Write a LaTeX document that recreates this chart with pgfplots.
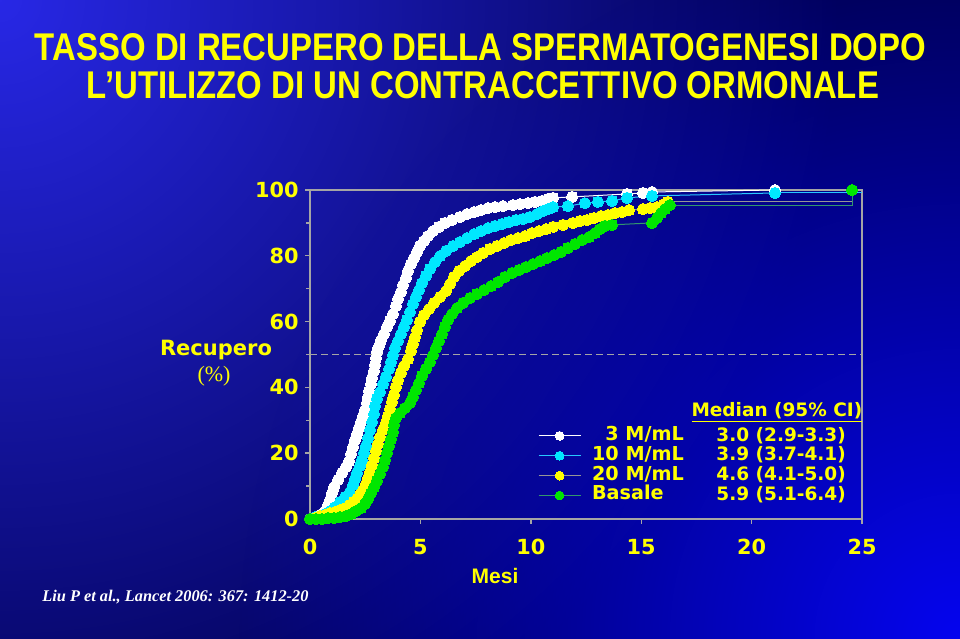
\documentclass[border=0pt]{standalone}
\usepackage{fontspec}
\usepackage{pgfplots}
\pgfplotsset{compat=1.18}
\usetikzlibrary{fadings}
\setmainfont{DejaVu Sans}
\newfontfamily\verdana{DejaVu Sans}
\newfontfamily\arialf{Liberation Sans}
\newfontfamily\timesf{Liberation Serif}
\definecolor{bgbase}{RGB}{0,0,80}
\definecolor{bgul}{RGB}{40,40,230}
\definecolor{bglr}{RGB}{5,5,240}
\definecolor{ttyellow}{RGB}{255,255,0}
\definecolor{axisgray}{RGB}{165,165,165}
\definecolor{cwhite}{RGB}{255,255,255}
\definecolor{ccyan}{RGB}{0,232,255}
\definecolor{ccyanline}{RGB}{40,200,255}
\definecolor{cyellow}{RGB}{255,255,0}
\definecolor{cyellowline}{RGB}{150,150,150}
\definecolor{cgreen}{RGB}{0,230,0}
\definecolor{cgreenline}{RGB}{50,150,110}
\tikzfading[name=radfade, inner color=transparent!0, outer color=transparent!100]
\newcommand\tickfont{\verdana\bfseries\fontsize{10.4bp}{12bp}\selectfont}
\newcommand\legfont{\verdana\bfseries\fontsize{9.6bp}{10bp}\selectfont}
\newcommand\valfont{\verdana\bfseries\fontsize{9.25bp}{10bp}\selectfont}
\begin{document}
\begin{tikzpicture}
\begin{scope}
\clip (0,0) rectangle (480bp,319.5bp);
\fill[bgbase] (0,0) rectangle (480bp,319.5bp);
\fill[bgul, path fading=radfade] (0,319.5bp) circle (420bp);
\fill[bglr, path fading=radfade] (480bp,0) circle (360bp);
\end{scope}
\node[anchor=base, text=ttyellow, inner sep=0pt] at (240.25bp,289bp) {\resizebox{445.5bp}{13.5bp}{\arialf\bfseries TASSO DI RECUPERO DELLA SPERMATOGENESI DOPO}};
\node[anchor=base, text=ttyellow, inner sep=0pt] at (241.5bp,270bp) {\resizebox{396bp}{13.5bp}{\arialf\bfseries L’UTILIZZO DI UN CONTRACCETTIVO ORMONALE}};
\begin{axis}[
  at={(155bp,60bp)}, anchor=south west,
  scale only axis, width=276bp, height=164.5bp,
  xmin=0, xmax=25, ymin=0, ymax=100,
  axis line style={axisgray, line width=0.7bp},
  xtick={0,5,10,15,20,25},
  ytick={0,20,40,60,80,100},
  minor ytick={10,30,50,70,90},
  tick style={axisgray, line width=0.7bp},
  major tick length=2.5bp, minor tick length=2bp,
  tick align=outside, tick pos=left,
  /pgf/number format/assume math mode=true,
  ticklabel style={text=ttyellow, font=\tickfont},
  yticklabel style={inner sep=0pt, xshift=-3bp},
  xticklabel style={inner sep=0pt, yshift=-7.5bp},
  clip=false,
  every axis plot/.append style={line width=0.5bp},
  legend style={at={(axis cs:10.33,28.3)}, anchor=north west, draw=none, fill=none,
    font=\legfont, text=ttyellow, inner sep=0pt, outer sep=0pt, row sep=0pt,
    nodes={inner sep=0pt, text height=7.2bp, text depth=2.75bp},
    /tikz/every odd column/.append style={column sep=5.5bp}},
  legend cell align=left,
  legend image code/.code={\draw[mark repeat=2,mark phase=2,#1,mark size=2.2bp] plot coordinates {(0bp,0bp) (10.5bp,0bp) (21bp,0bp)};},
]
\addplot[axisgray, dashed, dash pattern=on 3.5bp off 2bp, line width=0.6bp, forget plot] coordinates {(0,50) (25,50)};
\addplot[ccyanline, forget plot] coordinates {(21.06,99.1) (25,99.1)};
\addplot[cyellowline, forget plot] coordinates {(16.21,96.4) (24.55,96.4)};
\addplot[cgreenline, forget plot] coordinates {(16.30,95.4) (24.55,95.4) (24.55,100)};
% 3 M/mL
\addplot[cwhite, mark=*, mark size=2.8bp, mark options={draw=cwhite, fill=cwhite, line width=0pt}] coordinates {
(0,0) (0.18,0.3) (0.36,0.9) (0.54,1.5) (0.68,2.4) (0.82,4.3) (0.91,5.8) (1.00,7.9) (1.09,9.7)
(1.27,11.9) (1.45,14.0) (1.63,15.8) (1.77,17.6) (1.86,19.8) (1.95,21.9) (2.04,24.0) (2.13,25.8)
(2.22,27.7) (2.31,29.5) (2.40,31.3) (2.49,33.1) (2.58,35.3) (2.63,37.1) (2.67,38.9) (2.76,41.0)
(2.81,42.9) (2.90,45.0) (2.94,46.8) (2.99,48.9) (3.03,50.8) (3.13,52.6) (3.22,54.4) (3.35,56.2)
(3.49,58.4) (3.62,60.2) (3.76,62.3) (3.89,64.7) (3.99,66.9) (4.12,69.0) (4.21,71.1) (4.35,73.3)
(4.44,75.4) (4.57,77.5) (4.71,79.3) (4.85,81.2) (4.98,83.0) (5.16,84.5) (5.34,86.0) (5.57,87.5)
(5.84,88.8) (6.11,90.0) (6.43,90.9) (6.79,91.8) (7.11,92.7) (7.43,93.3) (7.74,93.9) (8.06,94.5)
(8.38,94.8) (8.74,95.1) (9.19,95.4) (9.51,95.7) (9.87,96.0) (10.19,96.4) (10.51,96.7) (10.78,97.3)
(11.01,97.6) (11.87,97.9) (14.36,98.8) (15.08,99.1) (15.49,99.4) (21.06,100)
};
\addlegendentry{\phantom{1}3 M/mL}
% 10 M/mL
\addplot[ccyanline, mark=*, mark size=2.8bp, mark options={draw=ccyan, fill=ccyan, line width=0pt}] coordinates {
(0,0) (0.23,0.6) (0.45,0.9) (0.68,1.5) (0.91,2.4) (1.13,3.6) (1.36,5.2) (1.59,6.7) (1.81,8.2)
(1.95,10.3) (2.04,12.2) (2.13,14.0) (2.26,16.1) (2.35,17.9) (2.45,20.1) (2.54,22.2) (2.63,24.6)
(2.72,27.1) (2.81,29.5) (2.90,31.9) (2.94,34.3) (3.03,36.5) (3.17,38.6) (3.31,41.0) (3.44,43.2)
(3.58,45.6) (3.67,47.7) (3.76,49.8) (3.85,52.0) (3.99,54.1) (4.12,56.2) (4.26,58.4) (4.39,60.5)
(4.53,62.9) (4.66,65.3) (4.80,67.5) (4.94,69.6) (5.07,71.7) (5.25,73.9) (5.43,76.0) (5.66,78.1)
(5.89,79.9) (6.16,81.5) (6.48,83.0) (6.79,84.2) (7.11,85.4) (7.43,86.6) (7.74,87.5) (8.06,88.4)
(8.38,89.1) (8.70,89.7) (9.01,90.3) (9.33,90.9) (9.65,91.2) (9.96,91.8) (10.28,92.7) (10.55,93.6)
(10.78,94.2) (11.01,94.8) (11.68,95.1) (12.45,96.0) (13.04,96.4) (13.68,96.7) (14.36,97.6)
(15.49,98.2) (21.06,99.1)
};
\addlegendentry{10 M/mL}
% 20 M/mL
\addplot[cyellowline, mark=*, mark size=2.8bp, mark options={draw=cyellow, fill=cyellow, line width=0pt}] coordinates {
(0,0) (0.23,0.3) (0.45,0.9) (0.68,1.2) (0.91,1.8) (1.13,2.1) (1.36,2.7) (1.59,3.3) (1.81,4.3)
(1.99,5.2) (2.13,6.1) (2.26,7.3) (2.40,8.8) (2.54,10.6) (2.63,12.5) (2.72,14.3) (2.81,16.4)
(2.90,18.5) (2.99,20.7) (3.08,22.8) (3.17,24.9) (3.31,27.1) (3.44,29.2) (3.53,31.3) (3.62,33.4)
(3.71,35.6) (3.80,37.7) (3.89,40.1) (3.99,42.2) (4.12,44.4) (4.26,46.5) (4.44,48.6) (4.57,51.1)
(4.66,53.2) (4.76,55.3) (4.85,57.4) (4.98,59.9) (5.16,62.0) (5.39,63.8) (5.62,65.7) (5.89,67.5)
(6.16,69.3) (6.34,71.4) (6.52,73.6) (6.75,75.4) (7.02,76.9) (7.29,78.4) (7.56,79.6) (7.84,80.9)
(8.15,82.1) (8.47,83.0) (8.79,83.9) (9.10,84.8) (9.42,85.4) (9.74,86.0) (10.05,86.9) (10.37,87.5)
(10.69,88.1) (11.01,88.8) (11.46,89.4) (11.91,90.0) (12.23,90.6) (12.55,90.9) (12.86,91.5)
(13.18,92.1) (13.50,92.4) (13.81,93.0) (14.13,93.3) (14.45,93.9) (15.08,94.2) (15.40,94.5)
(15.72,94.8) (16.03,95.7) (16.21,96.4)
};
\addlegendentry{20 M/mL}
% Basale
\addplot[cgreenline, mark=*, mark size=2.8bp, mark options={draw=cgreen, fill=cgreen, line width=0pt}] coordinates {
(0,0) (0.27,0) (0.54,0) (0.82,0.3) (1.09,0.3) (1.36,0.6) (1.63,0.9) (1.86,1.5) (2.08,2.4)
(2.31,3.3) (2.49,4.6) (2.63,6.1) (2.76,7.9) (2.90,9.7) (3.03,11.6) (3.17,13.7) (3.31,15.8)
(3.40,17.9) (3.49,20.1) (3.58,22.2) (3.67,24.3) (3.76,26.4) (3.80,28.6) (3.89,30.7) (4.08,32.2)
(4.30,33.7) (4.53,35.3) (4.66,37.1) (4.80,39.2) (4.94,41.3) (5.07,43.5) (5.25,45.6) (5.43,47.7)
(5.57,49.8) (5.71,52.0) (5.84,54.1) (5.98,56.2) (6.11,58.4) (6.25,60.5) (6.43,62.3) (6.66,64.1)
(6.93,65.7) (7.25,67.2) (7.56,68.4) (7.88,69.6) (8.20,70.8) (8.51,72.0) (8.83,73.6) (9.15,74.8)
(9.47,75.7) (9.78,76.6) (10.10,77.5) (10.42,78.4) (10.73,79.3) (11.05,80.2) (11.37,81.2)
(11.68,82.4) (12.00,83.6) (12.32,84.8) (12.64,85.7) (12.91,86.9) (13.13,88.1) (13.36,89.1)
(13.68,89.4) (15.49,90.0) (15.72,91.5) (15.90,93.0) (16.08,94.2) (16.30,95.4)
};
\addlegendentry{Basale}
\addplot[only marks, mark=*, mark size=2.8bp, mark options={draw=cgreen, fill=cgreen, line width=0pt}, forget plot] coordinates {(24.55,100)};
\node[anchor=base west, text=ttyellow, inner sep=0pt, font=\valfont] at (axis cs:17.26,31.2) {\underline{Median (95\% CI)}};
\node[anchor=base west, text=ttyellow, inner sep=0pt, font=\valfont] at (axis cs:18.39,23.6) {3.0 (2.9-3.3)};
\node[anchor=base west, text=ttyellow, inner sep=0pt, font=\valfont] at (axis cs:18.39,17.8) {3.9 (3.7-4.1)};
\node[anchor=base west, text=ttyellow, inner sep=0pt, font=\valfont] at (axis cs:18.39,11.7) {4.6 (4.1-5.0)};
\node[anchor=base west, text=ttyellow, inner sep=0pt, font=\valfont] at (axis cs:18.39,5.6) {5.9 (5.1-6.4)};
\end{axis}
\node[text=ttyellow, inner sep=0pt, font=\verdana\bfseries\fontsize{10.5bp}{12bp}\selectfont] at (108bp,144.5bp) {Recupero};
\node[text=ttyellow, inner sep=0pt, font=\timesf\fontsize{11bp}{12bp}\selectfont] at (107bp,131.5bp) {(\%)};
\node[text=ttyellow, inner sep=0pt, font=\arialf\bfseries\fontsize{10.5bp}{12bp}\selectfont] at (247.5bp,31.5bp) {Mesi};
\node[anchor=west, text=white, inner sep=0pt] at (21bp,21bp) {\resizebox{133bp}{!}{\timesf\bfseries\itshape Liu P et al., Lancet 2006: 367: 1412-20}};
\end{tikzpicture}
\end{document}
